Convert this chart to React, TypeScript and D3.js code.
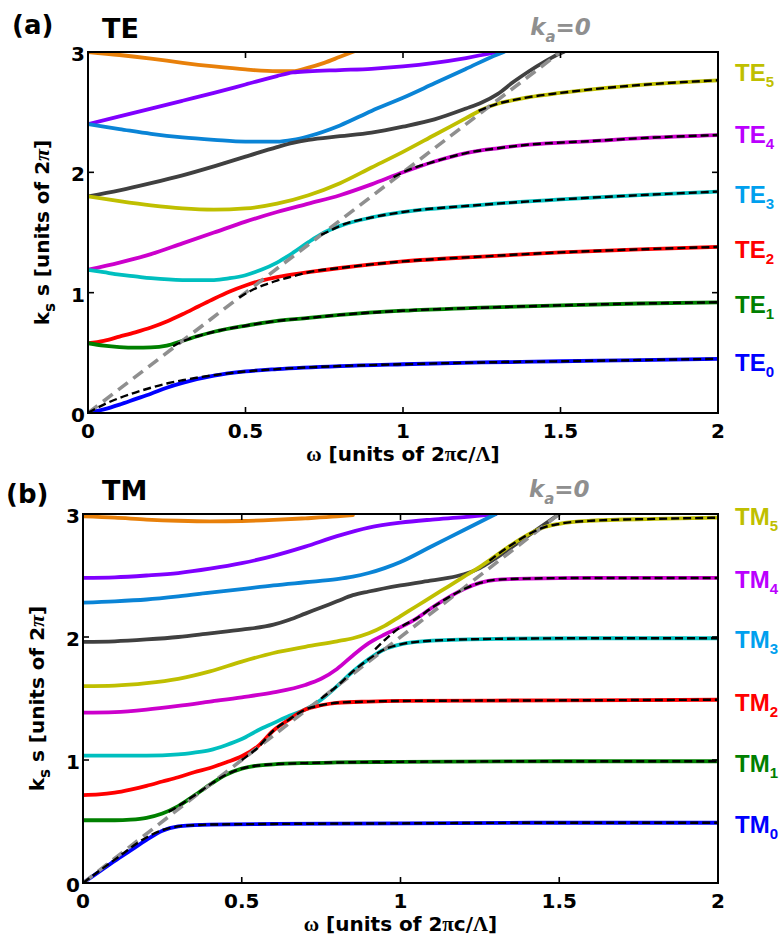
import React from 'react';
import * as d3 from 'd3';

type Pt = [number, number];

// ---------- axes ----------
const omegaTicks = [0, 0.5, 1, 1.5, 2];
const omegaTickLabels = ['0', '0.5', '1', '1.5', '2'];
const kTicks = [0, 1, 2, 3];
const kTickLabels = ['0', '1', '2', '3'];
const lightLine: Pt[] = [[0, 0], [1.5, 3]];

// ---------- TE branches (panel a) ----------
const teOrange: Pt[] = [[0, 3.0], [0.1, 2.975], [0.2, 2.945], [0.3, 2.91], [0.4, 2.88], [0.5, 2.855], [0.6, 2.84], [0.65, 2.84], [0.7, 2.87], [0.75, 2.91], [0.8, 2.96], [0.85, 3.01]];
const tePurple: Pt[] = [[0, 2.4], [0.1, 2.465], [0.2, 2.53], [0.3, 2.595], [0.4, 2.66], [0.5, 2.73], [0.6, 2.8], [0.65, 2.83], [0.7, 2.84], [0.8, 2.85], [0.9, 2.86], [1.0, 2.88], [1.1, 2.91], [1.2, 2.95], [1.3, 3.0]];
const teSteel: Pt[] = [[0, 2.4], [0.1, 2.36], [0.2, 2.32], [0.3, 2.29], [0.4, 2.27], [0.5, 2.255], [0.6, 2.255], [0.65, 2.27], [0.7, 2.3], [0.8, 2.39], [0.9, 2.51], [1.0, 2.62], [1.1, 2.74], [1.2, 2.86], [1.3, 2.98], [1.32, 3.0]];
const teGray: Pt[] = [[0, 1.8], [0.1, 1.85], [0.2, 1.91], [0.3, 1.975], [0.4, 2.05], [0.5, 2.13], [0.6, 2.21], [0.65, 2.245], [0.7, 2.27], [0.8, 2.3], [0.9, 2.33], [1.0, 2.38], [1.1, 2.44], [1.2, 2.53], [1.25, 2.58], [1.3, 2.65], [1.35, 2.75], [1.4, 2.84], [1.45, 2.92], [1.5, 2.99], [1.51, 3.0]];
const teOlive: Pt[] = [[0, 1.8], [0.1, 1.76], [0.2, 1.725], [0.3, 1.7], [0.4, 1.69], [0.5, 1.7], [0.6, 1.74], [0.7, 1.81], [0.8, 1.91], [0.9, 2.04], [1.0, 2.17], [1.1, 2.31], [1.2, 2.45], [1.25, 2.52], [1.3, 2.57], [1.35, 2.6], [1.4, 2.625], [1.5, 2.66], [1.6, 2.69], [1.8, 2.735], [2.0, 2.765]];
const teMagenta: Pt[] = [[0, 1.19], [0.1, 1.25], [0.2, 1.32], [0.3, 1.41], [0.4, 1.5], [0.5, 1.59], [0.6, 1.67], [0.7, 1.74], [0.8, 1.81], [0.9, 1.9], [1.0, 2.0], [1.1, 2.09], [1.2, 2.16], [1.3, 2.2], [1.4, 2.23], [1.6, 2.26], [1.8, 2.29], [2.0, 2.31]];
const teCyan: Pt[] = [[0, 1.19], [0.05, 1.17], [0.1, 1.15], [0.15, 1.135], [0.2, 1.12], [0.3, 1.105], [0.4, 1.105], [0.45, 1.12], [0.5, 1.145], [0.55, 1.19], [0.6, 1.25], [0.65, 1.33], [0.7, 1.42], [0.75, 1.5], [0.8, 1.555], [0.9, 1.625], [1.0, 1.67], [1.25, 1.73], [1.5, 1.775], [1.75, 1.81], [2.0, 1.84]];
const teRed: Pt[] = [[0, 0.58], [0.05, 0.6], [0.1, 0.635], [0.15, 0.67], [0.2, 0.71], [0.25, 0.76], [0.3, 0.82], [0.35, 0.885], [0.4, 0.95], [0.45, 1.01], [0.5, 1.06], [0.55, 1.1], [0.6, 1.13], [0.7, 1.17], [0.8, 1.205], [0.9, 1.235], [1.0, 1.26], [1.25, 1.3], [1.5, 1.335], [1.75, 1.36], [2.0, 1.38]];
const teGreen: Pt[] = [[0, 0.58], [0.05, 0.56], [0.1, 0.548], [0.15, 0.543], [0.2, 0.545], [0.25, 0.56], [0.3, 0.6], [0.35, 0.64], [0.4, 0.675], [0.5, 0.725], [0.6, 0.765], [0.7, 0.79], [0.8, 0.815], [1.0, 0.85], [1.25, 0.875], [1.5, 0.895], [1.75, 0.91], [2.0, 0.92]];
const teBlue: Pt[] = [[0, 0], [0.05, 0.03], [0.1, 0.07], [0.15, 0.115], [0.2, 0.16], [0.25, 0.21], [0.3, 0.25], [0.4, 0.31], [0.5, 0.345], [0.6, 0.365], [0.8, 0.39], [1.0, 0.405], [1.25, 0.42], [1.5, 0.43], [1.75, 0.44], [2.0, 0.45]];

// uncoupled (black dashed) TE modes: start near the light line, then follow the branch
const teDash0Head: Pt[] = [[0, 0], [0.05, 0.07], [0.1, 0.125], [0.15, 0.17], [0.2, 0.21], [0.25, 0.245], [0.3, 0.272], [0.4, 0.315]];
const teDash1Head: Pt[] = [[0.27, 0.555], [0.3, 0.595]];
const teDash2Head: Pt[] = [[0.48, 0.96], [0.52, 1.02], [0.56, 1.065], [0.6, 1.1], [0.65, 1.135]];
const teDash3Head: Pt[] = [[0.74, 1.48], [0.78, 1.53]];
const teDash4Head: Pt[] = [[0.97, 1.96]];
const teDash5Head: Pt[] = [[1.24, 2.51]];
const teDashJoin = [0.5, 0.35, 0.7, 0.8, 1.0, 1.3];

const teLabelK = [0.42, 0.906, 1.36, 1.82, 2.32, 2.83];

// ---------- TM branches (panel b) ----------
const tmOrange: Pt[] = [[0, 2.98], [0.1, 2.97], [0.2, 2.955], [0.3, 2.945], [0.4, 2.94], [0.5, 2.943], [0.6, 2.952], [0.7, 2.965], [0.8, 2.98], [0.85, 2.99]];
const tmPurple: Pt[] = [[0, 2.48], [0.1, 2.485], [0.2, 2.5], [0.3, 2.52], [0.4, 2.555], [0.5, 2.6], [0.6, 2.66], [0.7, 2.735], [0.8, 2.82], [0.9, 2.89], [1.0, 2.93], [1.1, 2.955], [1.2, 2.975], [1.3, 3.0]];
const tmSteel: Pt[] = [[0, 2.28], [0.1, 2.29], [0.2, 2.305], [0.3, 2.33], [0.4, 2.36], [0.5, 2.39], [0.6, 2.42], [0.7, 2.445], [0.8, 2.47], [0.85, 2.49], [0.9, 2.52], [0.95, 2.56], [1.0, 2.61], [1.1, 2.74], [1.2, 2.87], [1.3, 3.0]];
const tmGray: Pt[] = [[0, 1.96], [0.1, 1.965], [0.2, 1.98], [0.3, 2.0], [0.4, 2.03], [0.5, 2.06], [0.6, 2.1], [0.65, 2.14], [0.7, 2.19], [0.75, 2.24], [0.8, 2.29], [0.85, 2.34], [0.9, 2.37], [1.0, 2.42], [1.1, 2.46], [1.15, 2.48], [1.2, 2.51], [1.25, 2.56], [1.3, 2.64], [1.35, 2.73], [1.4, 2.82], [1.45, 2.91], [1.5, 3.0]];
const tmOlive: Pt[] = [[0, 1.6], [0.1, 1.605], [0.2, 1.625], [0.3, 1.66], [0.4, 1.72], [0.5, 1.8], [0.6, 1.87], [0.7, 1.92], [0.8, 1.965], [0.85, 1.99], [0.9, 2.03], [0.95, 2.09], [1.0, 2.17], [1.05, 2.25], [1.1, 2.33], [1.15, 2.41], [1.2, 2.49], [1.25, 2.57], [1.3, 2.66], [1.35, 2.75], [1.4, 2.83], [1.45, 2.89], [1.5, 2.92], [1.6, 2.945], [1.8, 2.96], [2.0, 2.97]];
const tmMagenta: Pt[] = [[0, 1.385], [0.1, 1.39], [0.2, 1.41], [0.3, 1.44], [0.4, 1.475], [0.5, 1.51], [0.6, 1.55], [0.7, 1.61], [0.75, 1.66], [0.8, 1.74], [0.85, 1.85], [0.9, 1.95], [0.95, 2.02], [1.0, 2.08], [1.05, 2.15], [1.1, 2.24], [1.15, 2.32], [1.2, 2.39], [1.25, 2.44], [1.3, 2.465], [1.4, 2.475], [1.6, 2.48], [2.0, 2.48]];
const tmCyan: Pt[] = [[0, 1.035], [0.1, 1.035], [0.2, 1.035], [0.3, 1.045], [0.35, 1.06], [0.4, 1.08], [0.45, 1.12], [0.5, 1.17], [0.55, 1.24], [0.6, 1.3], [0.65, 1.36], [0.7, 1.41], [0.75, 1.49], [0.8, 1.6], [0.85, 1.72], [0.9, 1.82], [0.95, 1.9], [1.0, 1.94], [1.1, 1.97], [1.3, 1.985], [1.6, 1.99], [2.0, 1.99]];
const tmRed: Pt[] = [[0, 0.715], [0.05, 0.72], [0.1, 0.735], [0.15, 0.76], [0.2, 0.79], [0.25, 0.825], [0.3, 0.86], [0.35, 0.9], [0.4, 0.935], [0.45, 0.98], [0.5, 1.03], [0.55, 1.11], [0.6, 1.24], [0.65, 1.33], [0.7, 1.41], [0.75, 1.445], [0.8, 1.465], [0.9, 1.475], [1.0, 1.48], [1.5, 1.485], [2.0, 1.49]];
const tmGreen: Pt[] = [[0, 0.51], [0.1, 0.51], [0.15, 0.515], [0.2, 0.53], [0.25, 0.565], [0.3, 0.625], [0.35, 0.71], [0.4, 0.8], [0.45, 0.88], [0.5, 0.93], [0.55, 0.955], [0.6, 0.965], [0.7, 0.975], [0.8, 0.98], [1.0, 0.985], [1.5, 0.99], [2.0, 0.99]];
const tmBlue: Pt[] = [[0, 0], [0.05, 0.09], [0.1, 0.18], [0.15, 0.265], [0.2, 0.35], [0.25, 0.425], [0.3, 0.46], [0.35, 0.47], [0.4, 0.475], [0.6, 0.48], [1.0, 0.485], [1.5, 0.49], [2.0, 0.49]];

const tmDash0Head: Pt[] = [[0, 0], [0.1, 0.19], [0.2, 0.37], [0.25, 0.43]];
const tmDash1Head: Pt[] = [[0.27, 0.58]];
const tmDash2Head: Pt[] = [[0.5, 1.0], [0.55, 1.1]];
const tmDash3Head: Pt[] = [[0.75, 1.5]];
const tmDash4Head: Pt[] = [[0.92, 1.9]];
const tmDash5Head: Pt[] = [[1.28, 2.62]];
const tmDashJoin = [0.3, 0.3, 0.6, 0.8, 1.0, 1.3];

const tmLabelK = [0.48, 0.976, 1.47, 1.98, 2.47, 2.98];

// ---------- colours ----------
const C = {
  orange: '#e8800a',
  purple: '#8000ff',
  steel: '#0a84d6',
  gray: '#404040',
  olive: '#bfbf00',
  magenta: '#cc00cc',
  cyan: '#00bfbf',
  red: '#ff0000',
  green: '#008000',
  blue: '#0000ff',
  light: '#8f8f8f',
};
const modeLabelColors = ['#0000ff', '#008000', '#ff0000', '#00a0ee', '#bb00ff', '#bfbf00'];

const FONT = '"DejaVu Sans", Verdana, sans-serif';
const NARROW = '"Liberation Sans", Arial, sans-serif';
const SERIF = '"Liberation Serif", "DejaVu Serif", serif';

type Geom = { left: number; right: number; top: number; bottom: number };

interface PanelProps {
  id: string;
  geom: Geom;
  letter: string;
  pol: string;
  branches: { data: Pt[]; color: string }[];
  dashHeads: Pt[][];
  dashSources: Pt[][];
  dashJoin: number[];
  labelK: number[];
  letterX: number;
  letterY: number;
}

function Panel(p: PanelProps) {
  const { geom } = p;
  const x = d3.scaleLinear().domain([0, 2]).range([geom.left, geom.right]);
  const y = d3.scaleLinear().domain([0, 3]).range([geom.bottom, geom.top]);
  const line = d3
    .line<Pt>()
    .x((d) => x(d[0]))
    .y((d) => y(d[1]))
    .curve(d3.curveMonotoneX);
  const dashed = p.dashHeads.map((h, i) => h.concat(p.dashSources[i].filter((d) => d[0] >= p.dashJoin[i])));
  const clipId = `clip-${p.id}`;
  const tickLen = 6;
  const midX = (geom.left + geom.right) / 2;
  const midY = (geom.top + geom.bottom) / 2;
  return (
    <g>
      <defs>
        <clipPath id={clipId}>
          <rect x={geom.left} y={geom.top - 1} width={geom.right - geom.left} height={geom.bottom - geom.top + 1} />
        </clipPath>
      </defs>
      <g clipPath={`url(#${clipId})`} fill="none">
        {p.branches.map((b, i) => (
          <path key={i} d={line(b.data) || ''} stroke={b.color} strokeWidth={3.8} strokeLinecap="round" />
        ))}
        <path d={line(lightLine) || ''} stroke={C.light} strokeWidth={3.6} strokeDasharray="12,7" />
        {dashed.map((d, i) => (
          <path key={i} d={line(d) || ''} stroke="#000" strokeWidth={2.4} strokeDasharray="8,4" />
        ))}
      </g>
      {/* frame */}
      <rect x={geom.left} y={geom.top} width={geom.right - geom.left} height={geom.bottom - geom.top} fill="none" stroke="#000" strokeWidth={2} />
      {omegaTicks.map((t, i) => (
        <g key={'xt' + i}>
          <line x1={x(t)} x2={x(t)} y1={geom.bottom} y2={geom.bottom - tickLen} stroke="#000" strokeWidth={1.6} />
          <line x1={x(t)} x2={x(t)} y1={geom.top} y2={geom.top + tickLen} stroke="#000" strokeWidth={1.6} />
          <text x={x(t)} y={geom.bottom + 25} textAnchor="middle" fontFamily={FONT} fontWeight="bold" fontSize={20}>
            {omegaTickLabels[i]}
          </text>
        </g>
      ))}
      {kTicks.map((t, i) => (
        <g key={'yt' + i}>
          <line x1={geom.left} x2={geom.left + tickLen} y1={y(t)} y2={y(t)} stroke="#000" strokeWidth={1.6} />
          <line x1={geom.right} x2={geom.right - tickLen} y1={y(t)} y2={y(t)} stroke="#000" strokeWidth={1.6} />
          <text x={geom.left - 3} y={y(t) + 2} textAnchor="end" dominantBaseline="central" fontFamily={FONT} fontWeight="bold" fontSize={20}>
            {kTickLabels[i]}
          </text>
        </g>
      ))}
      {/* x label */}
      <text x={midX} y={geom.bottom + 48} textAnchor="middle" fontFamily={FONT} fontWeight="bold" fontSize={20}>
        <tspan fontFamily={SERIF} fontSize={21}>ω</tspan>
        <tspan> [units of 2</tspan>
        <tspan fontFamily={SERIF} fontSize={21}>π</tspan>
        <tspan>c/</tspan>
        <tspan fontFamily={SERIF} fontSize={21}>Λ</tspan>
        <tspan>]</tspan>
      </text>
      {/* y label */}
      <text transform={`translate(${geom.left - 39},${midY}) rotate(-90)`} textAnchor="middle" fontFamily={FONT} fontWeight="bold" fontSize={20}>
        <tspan>k</tspan>
        <tspan dy={6} fontSize={15}>s</tspan>
        <tspan dy={-6}> s [units of 2</tspan>
        <tspan fontFamily={SERIF} fontStyle="italic" fontSize={22}>π</tspan>
        <tspan>]</tspan>
      </text>
      {/* panel letter and polarisation */}
      <text x={p.letterX} y={p.letterY} fontFamily={FONT} fontWeight="bold" fontSize={26}>
        {p.letter}
      </text>
      <text x={102} y={geom.top - 14} fontFamily={FONT} fontWeight="bold" fontSize={27}>
        {p.pol}
      </text>
      {/* light line label */}
      <text x={x(1.5)} y={geom.top - 17} textAnchor="middle" fontFamily={FONT} fontWeight="bold" fontStyle="italic" fontSize={23} fill={C.light}>
        <tspan>k</tspan>
        <tspan dy={7} fontSize={15}>a</tspan>
        <tspan dy={-7}>=0</tspan>
      </text>
      {/* mode labels */}
      {p.labelK.map((k, i) => (
        <text key={'ml' + i} x={735} y={y(k) + 9} fontFamily={NARROW} fontWeight="bold" fontSize={24} fill={modeLabelColors[i]}>
          <tspan>{p.pol}</tspan>
          <tspan dy={6} fontSize={15}>{String(i)}</tspan>
        </text>
      ))}
    </g>
  );
}

export default function App() {
  const teBranches = [
    { data: teOrange, color: C.orange },
    { data: tePurple, color: C.purple },
    { data: teSteel, color: C.steel },
    { data: teGray, color: C.gray },
    { data: teOlive, color: C.olive },
    { data: teMagenta, color: C.magenta },
    { data: teCyan, color: C.cyan },
    { data: teRed, color: C.red },
    { data: teGreen, color: C.green },
    { data: teBlue, color: C.blue },
  ];
  const tmBranches = [
    { data: tmOrange, color: C.orange },
    { data: tmPurple, color: C.purple },
    { data: tmSteel, color: C.steel },
    { data: tmGray, color: C.gray },
    { data: tmOlive, color: C.olive },
    { data: tmMagenta, color: C.magenta },
    { data: tmCyan, color: C.cyan },
    { data: tmRed, color: C.red },
    { data: tmGreen, color: C.green },
    { data: tmBlue, color: C.blue },
  ];
  return (
    <svg width={782} height={939} style={{ position: 'absolute', left: 0, top: 0, background: '#fff' }}>
      <Panel
        id="a"
        geom={{ left: 88, right: 718, top: 52, bottom: 413 }}
        letter="(a)"
        pol="TE"
        branches={teBranches}
        dashHeads={[teDash0Head, teDash1Head, teDash2Head, teDash3Head, teDash4Head, teDash5Head]}
        dashSources={[teBlue, teGreen, teRed, teCyan, teMagenta, teOlive]}
        dashJoin={teDashJoin}
        labelK={teLabelK}
        letterX={12}
        letterY={34}
      />
      <Panel
        id="b"
        geom={{ left: 83, right: 718, top: 514, bottom: 883 }}
        letter="(b)"
        pol="TM"
        branches={tmBranches}
        dashHeads={[tmDash0Head, tmDash1Head, tmDash2Head, tmDash3Head, tmDash4Head, tmDash5Head]}
        dashSources={[tmBlue, tmGreen, tmRed, tmCyan, tmMagenta, tmOlive]}
        dashJoin={tmDashJoin}
        labelK={tmLabelK}
        letterX={6}
        letterY={503}
      />
    </svg>
  );
}
